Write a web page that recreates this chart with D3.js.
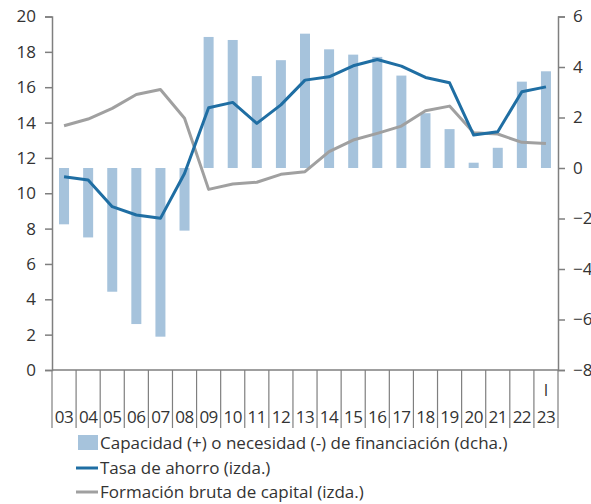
<!DOCTYPE html>
<html><head><meta charset="utf-8">
<script src="https://cdn.jsdelivr.net/npm/d3@7"></script>
<style>body{margin:0;background:#fff}svg{display:block}text{font-family:"Open Sans",sans-serif;fill:#333}</style>
</head><body><svg id="c" width="591" height="504"></svg>
<script>
const categories = ["03","04","05","06","07","08","09","10","11","12","13","14","15","16","17","18","19","20","21","22","23"];
const capacidad = [-2.23,-2.75,-4.9,-6.18,-6.68,-2.48,5.19,5.07,3.64,4.27,5.32,4.7,4.49,4.4,3.66,2.17,1.54,0.21,0.8,3.42,3.83];
const tasaAhorro = [10.93,10.75,9.24,8.77,8.58,11.12,14.84,15.14,13.95,15.0,16.4,16.59,17.21,17.57,17.19,16.55,16.25,13.29,13.48,15.74,16.02];
const formacion = [13.82,14.2,14.8,15.59,15.87,14.24,10.22,10.52,10.62,11.07,11.22,12.35,13.01,13.39,13.8,14.67,14.93,13.42,13.35,12.88,12.82];
const leftTicks = [0,2,4,6,8,10,12,14,16,18,20];
const rightTicks = [-8,-6,-4,-2,0,2,4,6];
const legendLabels = ["Capacidad (+) o necesidad (-) de financiación (dcha.)","Tasa de ahorro (izda.)","Formación bruta de capital (izda.)"];
const subLabel = "I";

const svg = d3.select("#c");
const L = 52, R = 558, T = 16.5, B = 370;
const xb = d3.scaleBand().domain(categories).range([L, R]);
const yL = d3.scaleLinear().domain([0,20]).range([B,T]);
const yR = d3.scaleLinear().domain([-8,6]).range([B,T]);
const barColor = "#a6c3dc", blue = "#1f6ea3", gray = "#a0a0a0", axisCol = "#7f7f7f";

// bars
svg.append("g").selectAll("rect").data(capacidad).join("rect")
  .attr("x",(d,i)=>xb(categories[i]) + xb.bandwidth()/2 - 5)
  .attr("width",10)
  .attr("y",d=>yR(Math.max(0,d)))
  .attr("height",d=>Math.abs(yR(d)-yR(0)))
  .attr("fill",barColor);

// lines
const cx = i => xb(categories[i]) + xb.bandwidth()/2;
const lineL = d3.line().x((d,i)=>cx(i)).y(d=>yL(d));
svg.append("path").datum(formacion).attr("d",lineL).attr("fill","none").attr("stroke",gray).attr("stroke-width",3).attr("stroke-linejoin","round");
svg.append("path").datum(tasaAhorro).attr("d",lineL).attr("fill","none").attr("stroke",blue).attr("stroke-width",3).attr("stroke-linejoin","round");

// axes
const gl = svg.append("g").attr("transform",`translate(${L},0)`).call(d3.axisLeft(yL).tickValues(leftTicks).tickSize(7).tickPadding(9));
const gr = svg.append("g").attr("transform",`translate(${R},0)`).call(d3.axisRight(yR).tickValues(rightTicks).tickSize(7).tickPadding(8));
[gl,gr].forEach(g=>{
  g.select(".domain").attr("stroke",axisCol).attr("stroke-width",1.5);
  g.selectAll(".tick line").attr("stroke",axisCol).attr("stroke-width",1.5);
  g.selectAll(".tick text").attr("font-size",17).attr("fill","#333").attr("font-family","'Open Sans',sans-serif");
});

// bottom axis
svg.append("line").attr("x1",L).attr("x2",R).attr("y1",B).attr("y2",B).attr("stroke",axisCol).attr("stroke-width",1.5);
const bounds = categories.map(c=>xb(c)).concat([R]);
svg.append("g").selectAll("line").data(bounds).join("line")
  .attr("x1",d=>d).attr("x2",d=>d).attr("y1",B).attr("y2",428)
  .attr("stroke",axisCol).attr("stroke-width",1.2);
svg.append("g").selectAll("text").data(categories).join("text")
  .attr("x",c=>xb(c)+xb.bandwidth()/2).attr("y",423)
  .attr("text-anchor","middle").attr("font-size",17).attr("letter-spacing",-0.5).text(c=>c);
svg.append("text").attr("x",cx(categories.length-1)).attr("y",396).attr("text-anchor","middle").attr("font-size",16).text(subLabel);

// legend
const lg = svg.append("g");
const ly = [443,468,492];
lg.append("rect").attr("x",78).attr("y",ly[0]-8).attr("width",20).attr("height",15).attr("fill",barColor);
lg.append("line").attr("x1",76).attr("x2",98).attr("y1",ly[1]).attr("y2",ly[1]).attr("stroke",blue).attr("stroke-width",3);
lg.append("line").attr("x1",76).attr("x2",98).attr("y1",ly[2]).attr("y2",ly[2]).attr("stroke",gray).attr("stroke-width",3);
lg.selectAll("text").data(legendLabels).join("text")
  .attr("x",100).attr("y",(d,i)=>ly[i]+6).attr("font-size",17).text(d=>d);
</script></body></html>
